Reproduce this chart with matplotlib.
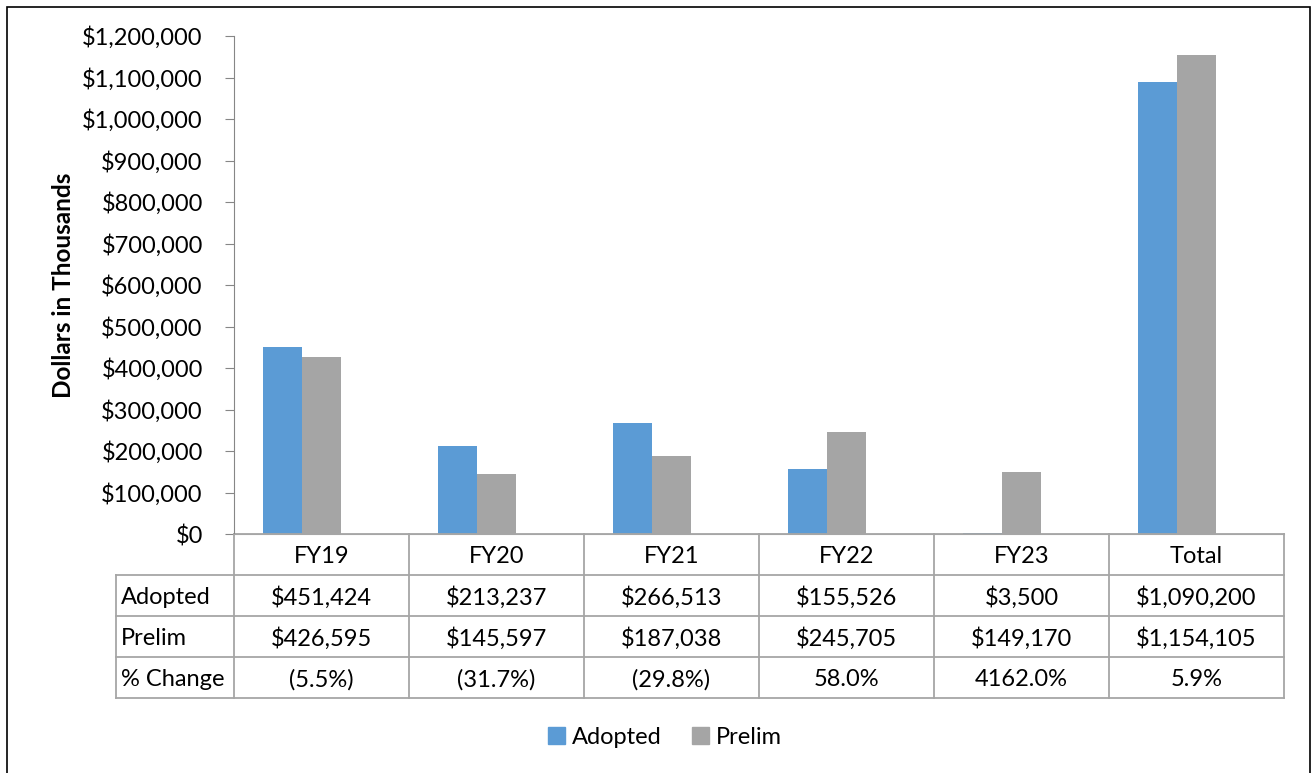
import matplotlib
matplotlib.use("Agg")
import matplotlib.pyplot as plt
from matplotlib.patches import Rectangle
from matplotlib.lines import Line2D
from matplotlib.transforms import blended_transform_factory
import matplotlib.ticker as mticker

categories = ["FY19", "FY20", "FY21", "FY22", "FY23", "Total"]
adopted = [451424, 213237, 266513, 155526, 3500, 1090200]
prelim = [426595, 145597, 187038, 245705, 149170, 1154105]
pct_change = ["(5.5%)", "(31.7%)", "(29.8%)", "58.0%", "4162.0%", "5.9%"]
row_labels = ["Adopted", "Prelim", "% Change"]
y_ticks = list(range(0, 1200001, 100000))

BLUE = "#5B9BD5"
GRAY = "#A5A5A5"
GRID = "#A6A6A6"
FONT = "Lato"
plt.rcParams["font.family"] = [FONT, "DejaVu Sans"]

W, H = 1312, 773
fig = plt.figure(figsize=(W / 100, H / 100), dpi=100)

def fx(px):
    return px / W

def fy(py):
    return 1 - py / H

ax_l, ax_r, ax_t, ax_b = 234, 1284, 36, 534
ax = fig.add_axes([fx(ax_l), fy(ax_b), fx(ax_r) - fx(ax_l), fy(ax_t) - fy(ax_b)])

n = len(categories)
x = list(range(n))
bw = 0.223
shift = -0.114
ax.bar([i + shift - bw / 2 for i in x], adopted, width=bw, color=BLUE, label="Adopted")
ax.bar([i + shift + bw / 2 for i in x], prelim, width=bw, color=GRAY, label="Prelim")

ax.set_xlim(-0.5, n - 0.5)
ax.set_ylim(0, 1200000)
ax.set_yticks(y_ticks)
ax.yaxis.set_major_formatter(mticker.FuncFormatter(lambda v, p: f"${v:,.0f}"))
ax.tick_params(axis="y", labelsize=17, length=6.5, color="#868686", pad=16)
ax.set_xticks([])
for s in ["top", "right"]:
    ax.spines[s].set_visible(False)
ax.spines["left"].set_color("#868686")
ax.spines["bottom"].set_color(GRID)
ax.set_ylabel("Dollars in Thousands", fontsize=17.5, fontweight="bold", labelpad=5)

# Data table
row_h = 41 / H
tr = blended_transform_factory(ax.transData, fig.transFigure)
top = fy(ax_b)
label_left = -0.5 - (ax_l - 116) / ((ax_r - ax_l) / n)
ys = [top - k * row_h for k in range(5)]
ax.add_line(Line2D([-0.5, n - 0.5], [ys[0], ys[0]], transform=tr, color=GRID, lw=1.3, clip_on=False))
for k in range(1, 5):
    ax.add_line(Line2D([label_left, n - 0.5], [ys[k], ys[k]], transform=tr, color=GRID, lw=1.3, clip_on=False))
for i in range(n + 1):
    xv = i - 0.5
    ax.add_line(Line2D([xv, xv], [ys[0], ys[4]], transform=tr, color=GRID, lw=1.3, clip_on=False))
ax.add_line(Line2D([label_left, label_left], [ys[1], ys[4]], transform=tr, color=GRID, lw=1.3, clip_on=False))

fs = 17
dy = -2 / H
for i, c in enumerate(categories):
    ax.text(i, (ys[0] + ys[1]) / 2 + dy, c, transform=tr, ha="center", va="center", fontsize=fs)
    ax.text(i, (ys[1] + ys[2]) / 2 + dy, f"${adopted[i]:,}", transform=tr, ha="center", va="center", fontsize=fs)
    ax.text(i, (ys[2] + ys[3]) / 2 + dy, f"${prelim[i]:,}", transform=tr, ha="center", va="center", fontsize=fs)
    ax.text(i, (ys[3] + ys[4]) / 2 + dy, pct_change[i], transform=tr, ha="center", va="center", fontsize=fs)
for k, lab in enumerate(row_labels):
    ax.text(label_left + 0.03, (ys[k + 1] + ys[k + 2]) / 2 + dy, lab, transform=tr, ha="left", va="center", fontsize=fs)

# Legend
handles = [Rectangle((0, 0), 1, 1, color=BLUE), Rectangle((0, 0), 1, 1, color=GRAY)]
fig.legend(handles, ["Adopted", "Prelim"], loc="center", bbox_to_anchor=(fx(665), fy(737)),
           ncol=2, frameon=False, fontsize=17, handlelength=0.7, handleheight=0.7,
           handletextpad=0.3, columnspacing=1.3)

# Figure border
fig.add_artist(Rectangle((fx(7), fy(780)), fx(1310) - fx(7), fy(7) - fy(780), transform=fig.transFigure,
                         fill=False, edgecolor="black", lw=1.2))

fig.savefig("out.png", dpi=100)
